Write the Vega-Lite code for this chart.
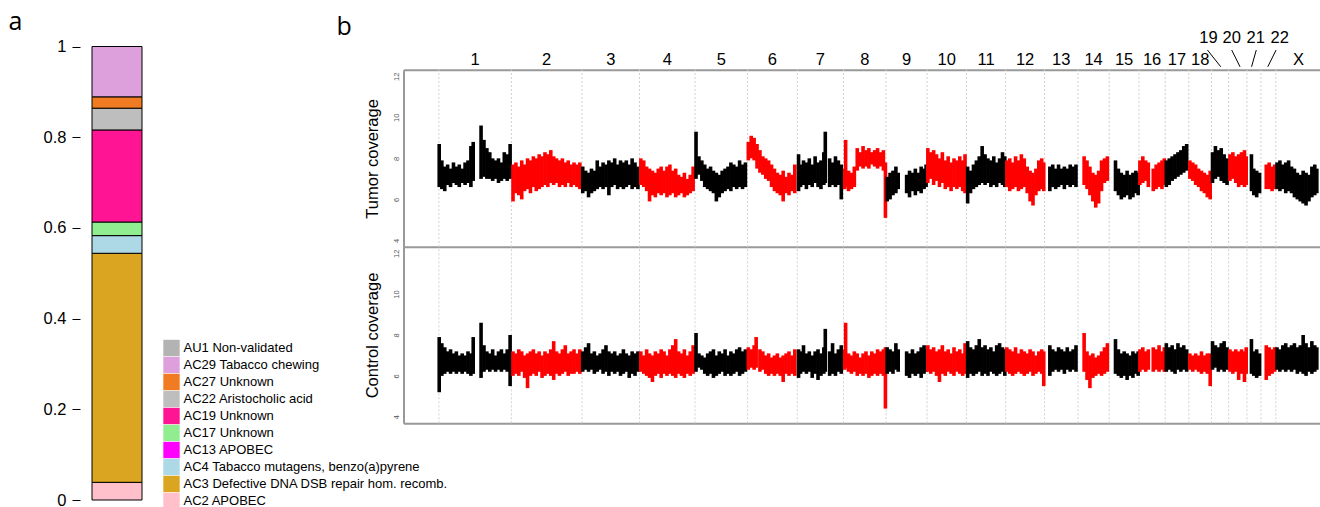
{
"$schema":"https://vega.github.io/schema/vega-lite/v6.json",
"width":1320,"height":507,"autosize":{"type":"none"},"padding":0,
"config":{"view":{"stroke":null},"font":"Liberation Sans"},
"datasets":{
"sig":[
{"s":"AC2 APOBEC","v":0.039,"o":1,"g":"a"},
{"s":"AC3 Defective DNA DSB repair hom. recomb.","v":0.505,"o":2,"g":"a"},
{"s":"AC4 Tabacco mutagens, benzo(a)pyrene","v":0.039,"o":3,"g":"a"},
{"s":"AC17 Unknown","v":0.03,"o":4,"g":"a"},
{"s":"AC19 Unknown","v":0.203,"o":5,"g":"a"},
{"s":"AC22 Aristocholic acid","v":0.048,"o":6,"g":"a"},
{"s":"AC27 Unknown","v":0.025,"o":7,"g":"a"},
{"s":"AC29 Tabacco chewing","v":0.111,"o":8,"g":"a"}
],
"bounds":[{"p":0},{"p":249.25},{"p":492.45},{"p":690.47},{"p":881.62},{"p":1062.54},{"p":1233.66},{"p":1392.8},{"p":1539.16},{"p":1680.37},{"p":1815.9},{"p":1950.91},{"p":2084.76},{"p":2199.93},{"p":2307.28},{"p":2409.81},{"p":2500.16},{"p":2581.36},{"p":2659.44},{"p":2718.57},{"p":2781.6},{"p":2829.73},{"p":2881.03}],
"labels":[{"t":"1","p":124.6,"r":0},{"t":"2","p":370.9,"r":0},{"t":"3","p":591.5,"r":0},{"t":"4","p":786,"r":0},{"t":"5","p":972.1,"r":0},{"t":"6","p":1148.1,"r":0},{"t":"7","p":1313.2,"r":0},{"t":"8","p":1466,"r":0},{"t":"9","p":1609.8,"r":0},{"t":"10","p":1748.1,"r":0},{"t":"11","p":1883.4,"r":0},{"t":"12","p":2017.8,"r":0},{"t":"13","p":2142.3,"r":0},{"t":"14","p":2253.6,"r":0},{"t":"15","p":2358.5,"r":0},{"t":"16","p":2455,"r":0},{"t":"17","p":2540.8,"r":0},{"t":"18","p":2620.4,"r":0},{"t":"19","p":2649,"r":1},{"t":"20","p":2729,"r":1},{"t":"21","p":2811.6,"r":1},{"t":"22","p":2894.3,"r":1},{"t":"X","p":2958.7,"r":0}],
"leaders":[{"a":2645.6,"b":2691.4},{"a":2729,"b":2757.8},{"a":2813.6,"b":2797.4},{"a":2881.8,"b":2853.2}],
"t":[
{"k":"1","p":1,"l":6.6,"h":8.7},{"k":"1","p":10,"l":6.5,"h":7.9},{"k":"1","p":20,"l":6.4,"h":7.6},{"k":"1","p":30,"l":6.7,"h":7.7},{"k":"1","p":40,"l":6.6,"h":7.5},{"k":"1","p":50,"l":6.8,"h":7.8},{"k":"1","p":60,"l":6.7,"h":7.6},{"k":"1","p":70,"l":6.6,"h":7.7},{"k":"1","p":80,"l":6.8,"h":7.5},{"k":"1","p":90,"l":6.7,"h":7.8},{"k":"1","p":100,"l":6.8,"h":7.9},{"k":"1","p":110,"l":6.6,"h":8.6},{"k":"1","p":118,"l":6.9,"h":8.8},
{"k":"1","p":145,"l":7.0,"h":9.6},{"k":"1","p":155,"l":7.1,"h":8.9},{"k":"1","p":165,"l":7.0,"h":8.5},{"k":"1","p":175,"l":7.0,"h":8.3},{"k":"1","p":185,"l":6.9,"h":8.0},{"k":"1","p":195,"l":7.0,"h":7.9},{"k":"1","p":205,"l":6.8,"h":8.0},{"k":"1","p":215,"l":6.9,"h":7.8},{"k":"1","p":225,"l":7.0,"h":8.3},{"k":"1","p":235,"l":6.9,"h":8.2},{"k":"1","p":245,"l":7.0,"h":8.7},
{"k":"2","p":255,"l":5.9,"h":7.7},{"k":"2","p":265,"l":6.3,"h":7.8},{"k":"2","p":275,"l":6.2,"h":7.6},{"k":"2","p":285,"l":6.0,"h":7.9},{"k":"2","p":295,"l":6.4,"h":7.7},{"k":"2","p":305,"l":6.5,"h":8.0},{"k":"2","p":315,"l":6.3,"h":7.9},{"k":"2","p":325,"l":6.6,"h":8.1},{"k":"2","p":335,"l":6.4,"h":8.0},{"k":"2","p":345,"l":6.5,"h":8.2},{"k":"2","p":355,"l":6.6,"h":8.1},{"k":"2","p":365,"l":6.7,"h":8.3},{"k":"2","p":375,"l":6.6,"h":8.2},{"k":"2","p":385,"l":6.8,"h":8.4},{"k":"2","p":395,"l":6.7,"h":8.1},{"k":"2","p":405,"l":6.8,"h":8.0},{"k":"2","p":415,"l":6.6,"h":7.9},{"k":"2","p":425,"l":6.7,"h":8.0},{"k":"2","p":435,"l":6.6,"h":7.8},{"k":"2","p":445,"l":6.8,"h":7.9},{"k":"2","p":455,"l":6.6,"h":7.7},{"k":"2","p":465,"l":6.7,"h":7.8},{"k":"2","p":475,"l":6.6,"h":7.7},{"k":"2","p":485,"l":6.5,"h":7.8},
{"k":"3","p":495,"l":6.3,"h":7.6},{"k":"3","p":505,"l":6.4,"h":7.4},{"k":"3","p":515,"l":6.1,"h":7.3},{"k":"3","p":525,"l":6.3,"h":7.5},{"k":"3","p":535,"l":6.4,"h":7.4},{"k":"3","p":545,"l":6.5,"h":7.9},{"k":"3","p":555,"l":6.6,"h":7.6},{"k":"3","p":565,"l":6.5,"h":7.8},{"k":"3","p":575,"l":6.6,"h":7.7},{"k":"3","p":585,"l":6.2,"h":7.9},{"k":"3","p":595,"l":6.6,"h":7.8},{"k":"3","p":605,"l":6.7,"h":8.0},{"k":"3","p":615,"l":6.5,"h":7.7},{"k":"3","p":625,"l":6.6,"h":7.9},{"k":"3","p":635,"l":6.5,"h":7.8},{"k":"3","p":645,"l":6.6,"h":7.9},{"k":"3","p":655,"l":6.7,"h":7.7},{"k":"3","p":665,"l":6.5,"h":8.0},{"k":"3","p":675,"l":6.6,"h":7.8},{"k":"3","p":685,"l":6.5,"h":7.6},
{"k":"4","p":695,"l":6.7,"h":8.0},{"k":"4","p":705,"l":6.6,"h":7.9},{"k":"4","p":715,"l":6.4,"h":7.6},{"k":"4","p":725,"l":5.9,"h":7.5},{"k":"4","p":735,"l":6.2,"h":7.4},{"k":"4","p":745,"l":6.1,"h":7.3},{"k":"4","p":755,"l":6.3,"h":7.5},{"k":"4","p":765,"l":6.2,"h":7.6},{"k":"4","p":775,"l":6.3,"h":7.4},{"k":"4","p":785,"l":6.1,"h":7.6},{"k":"4","p":795,"l":6.2,"h":7.7},{"k":"4","p":805,"l":6.3,"h":7.4},{"k":"4","p":815,"l":6.1,"h":7.5},{"k":"4","p":825,"l":6.2,"h":7.2},{"k":"4","p":835,"l":6.3,"h":7.1},{"k":"4","p":845,"l":6.1,"h":7.3},{"k":"4","p":855,"l":6.2,"h":7.0},{"k":"4","p":865,"l":6.3,"h":7.2},{"k":"4","p":875,"l":6.4,"h":7.6},
{"k":"5","p":885,"l":7.0,"h":9.3},{"k":"5","p":895,"l":7.2,"h":8.1},{"k":"5","p":905,"l":6.9,"h":7.9},{"k":"5","p":915,"l":6.6,"h":7.7},{"k":"5","p":925,"l":6.5,"h":7.5},{"k":"5","p":935,"l":6.4,"h":7.6},{"k":"5","p":945,"l":6.3,"h":7.4},{"k":"5","p":955,"l":5.9,"h":7.3},{"k":"5","p":965,"l":6.1,"h":7.2},{"k":"5","p":975,"l":6.3,"h":7.4},{"k":"5","p":985,"l":6.4,"h":7.5},{"k":"5","p":995,"l":6.5,"h":7.6},{"k":"5","p":1005,"l":6.4,"h":7.8},{"k":"5","p":1015,"l":6.6,"h":7.7},{"k":"5","p":1025,"l":6.5,"h":7.6},{"k":"5","p":1035,"l":6.6,"h":7.9},{"k":"5","p":1045,"l":6.5,"h":7.7},{"k":"5","p":1055,"l":6.6,"h":7.8},
{"k":"6","p":1065,"l":7.9,"h":8.8},{"k":"6","p":1075,"l":8.0,"h":9.1},{"k":"6","p":1085,"l":7.9,"h":9.0},{"k":"6","p":1095,"l":7.5,"h":8.7},{"k":"6","p":1105,"l":7.3,"h":8.4},{"k":"6","p":1115,"l":7.2,"h":8.1},{"k":"6","p":1125,"l":7.0,"h":8.0},{"k":"6","p":1135,"l":6.9,"h":7.9},{"k":"6","p":1145,"l":6.6,"h":7.7},{"k":"6","p":1155,"l":6.4,"h":7.5},{"k":"6","p":1165,"l":6.3,"h":7.3},{"k":"6","p":1175,"l":6.2,"h":7.2},{"k":"6","p":1185,"l":5.9,"h":7.4},{"k":"6","p":1195,"l":6.3,"h":7.1},{"k":"6","p":1205,"l":6.2,"h":7.3},{"k":"6","p":1215,"l":6.4,"h":7.2},{"k":"6","p":1225,"l":6.3,"h":7.7},
{"k":"7","p":1238,"l":6.4,"h":8.2},{"k":"7","p":1245,"l":6.6,"h":7.7},{"k":"7","p":1255,"l":6.7,"h":7.9},{"k":"7","p":1265,"l":6.5,"h":7.8},{"k":"7","p":1275,"l":6.7,"h":8.0},{"k":"7","p":1285,"l":6.6,"h":7.7},{"k":"7","p":1295,"l":6.8,"h":8.1},{"k":"7","p":1305,"l":6.6,"h":7.8},{"k":"7","p":1315,"l":6.5,"h":7.9},{"k":"7","p":1325,"l":6.7,"h":8.3},{"k":"7","p":1330,"l":6.8,"h":9.3},{"k":"7","p":1345,"l":6.6,"h":8.0},{"k":"7","p":1355,"l":6.7,"h":7.8},{"k":"7","p":1365,"l":6.6,"h":8.1},{"k":"7","p":1375,"l":6.7,"h":7.9},{"k":"7","p":1385,"l":6.0,"h":7.7},
{"k":"8","p":1397,"l":6.5,"h":7.5},{"k":"8","p":1400,"l":6.6,"h":8.9},{"k":"8","p":1410,"l":6.4,"h":7.4},{"k":"8","p":1420,"l":6.5,"h":7.3},{"k":"8","p":1430,"l":6.6,"h":7.6},{"k":"8","p":1440,"l":7.4,"h":8.5},{"k":"8","p":1450,"l":7.6,"h":8.3},{"k":"8","p":1460,"l":7.5,"h":8.6},{"k":"8","p":1470,"l":7.6,"h":8.4},{"k":"8","p":1480,"l":7.5,"h":8.5},{"k":"8","p":1490,"l":7.7,"h":8.3},{"k":"8","p":1500,"l":7.6,"h":8.4},{"k":"8","p":1510,"l":7.5,"h":8.5},{"k":"8","p":1520,"l":7.6,"h":8.3},{"k":"8","p":1530,"l":7.4,"h":8.4},{"k":"8","p":1537,"l":5.1,"h":7.8},
{"k":"9","p":1543,"l":5.9,"h":7.1},{"k":"9","p":1553,"l":6.0,"h":7.3},{"k":"9","p":1563,"l":6.2,"h":7.4},{"k":"9","p":1573,"l":6.3,"h":7.6},{"k":"9","p":1581,"l":6.5,"h":7.3},{"k":"9","p":1610,"l":6.3,"h":7.2},{"k":"9","p":1620,"l":6.1,"h":7.4},{"k":"9","p":1630,"l":6.4,"h":7.3},{"k":"9","p":1640,"l":6.2,"h":7.5},{"k":"9","p":1650,"l":6.4,"h":7.3},{"k":"9","p":1660,"l":6.3,"h":7.6},{"k":"9","p":1670,"l":6.5,"h":7.5},{"k":"9","p":1677,"l":6.6,"h":7.7},
{"k":"10","p":1683,"l":6.8,"h":8.5},{"k":"10","p":1693,"l":7.0,"h":8.3},{"k":"10","p":1703,"l":6.7,"h":8.4},{"k":"10","p":1713,"l":6.9,"h":8.2},{"k":"10","p":1723,"l":6.6,"h":8.0},{"k":"10","p":1733,"l":6.8,"h":8.3},{"k":"10","p":1743,"l":6.5,"h":7.9},{"k":"10","p":1753,"l":6.6,"h":8.1},{"k":"10","p":1763,"l":6.4,"h":7.8},{"k":"10","p":1773,"l":6.6,"h":8.0},{"k":"10","p":1783,"l":6.5,"h":7.9},{"k":"10","p":1793,"l":6.6,"h":8.1},{"k":"10","p":1803,"l":6.4,"h":7.9},{"k":"10","p":1811,"l":6.3,"h":8.2},
{"k":"11","p":1820,"l":5.8,"h":7.6},{"k":"11","p":1830,"l":6.3,"h":7.4},{"k":"11","p":1840,"l":6.5,"h":7.7},{"k":"11","p":1850,"l":6.6,"h":7.9},{"k":"11","p":1860,"l":6.7,"h":8.1},{"k":"11","p":1870,"l":6.8,"h":8.6},{"k":"11","p":1880,"l":6.7,"h":8.2},{"k":"11","p":1890,"l":6.8,"h":8.0},{"k":"11","p":1900,"l":6.6,"h":7.9},{"k":"11","p":1910,"l":6.7,"h":8.1},{"k":"11","p":1920,"l":6.6,"h":7.8},{"k":"11","p":1930,"l":6.8,"h":8.0},{"k":"11","p":1940,"l":6.7,"h":8.3},{"k":"11","p":1948,"l":6.6,"h":8.1},
{"k":"12","p":1955,"l":6.6,"h":7.9},{"k":"12","p":1965,"l":6.4,"h":8.0},{"k":"12","p":1975,"l":6.5,"h":7.8},{"k":"12","p":1985,"l":6.6,"h":8.1},{"k":"12","p":1995,"l":6.4,"h":7.9},{"k":"12","p":2005,"l":6.5,"h":8.2},{"k":"12","p":2015,"l":6.6,"h":8.0},{"k":"12","p":2025,"l":6.3,"h":7.6},{"k":"12","p":2035,"l":5.9,"h":7.4},{"k":"12","p":2045,"l":5.7,"h":7.3},{"k":"12","p":2055,"l":6.2,"h":7.5},{"k":"12","p":2065,"l":6.4,"h":7.9},{"k":"12","p":2075,"l":6.5,"h":8.0},{"k":"12","p":2082,"l":6.4,"h":7.8},
{"k":"13","p":2103,"l":6.4,"h":7.6},{"k":"13","p":2113,"l":6.6,"h":7.7},{"k":"13","p":2123,"l":6.5,"h":7.5},{"k":"13","p":2133,"l":6.6,"h":7.7},{"k":"13","p":2143,"l":6.7,"h":7.5},{"k":"13","p":2153,"l":6.5,"h":7.6},{"k":"13","p":2163,"l":6.7,"h":7.5},{"k":"13","p":2173,"l":6.6,"h":7.7},{"k":"13","p":2183,"l":6.7,"h":7.6},{"k":"13","p":2193,"l":6.6,"h":7.7},
{"k":"14","p":2221,"l":6.7,"h":8.1},{"k":"14","p":2231,"l":6.5,"h":7.9},{"k":"14","p":2241,"l":6.2,"h":7.6},{"k":"14","p":2251,"l":5.9,"h":7.3},{"k":"14","p":2261,"l":5.6,"h":7.2},{"k":"14","p":2271,"l":5.8,"h":7.4},{"k":"14","p":2281,"l":6.4,"h":7.9},{"k":"14","p":2291,"l":6.8,"h":8.0},{"k":"14","p":2301,"l":6.9,"h":8.1},
{"k":"15","p":2329,"l":6.4,"h":7.9},{"k":"15","p":2339,"l":6.2,"h":7.5},{"k":"15","p":2349,"l":6.0,"h":7.3},{"k":"15","p":2359,"l":6.1,"h":7.2},{"k":"15","p":2369,"l":6.2,"h":7.4},{"k":"15","p":2379,"l":6.0,"h":7.2},{"k":"15","p":2389,"l":6.1,"h":7.3},{"k":"15","p":2399,"l":6.3,"h":7.4},{"k":"15","p":2407,"l":6.2,"h":7.3},
{"k":"16","p":2413,"l":6.7,"h":7.9},{"k":"16","p":2423,"l":6.8,"h":8.1},{"k":"16","p":2433,"l":6.9,"h":7.9},{"k":"16","p":2442,"l":6.6,"h":7.8},{"k":"16","p":2459,"l":6.4,"h":7.5},{"k":"16","p":2469,"l":6.5,"h":7.7},{"k":"16","p":2479,"l":6.6,"h":7.8},{"k":"16","p":2489,"l":6.5,"h":7.9},{"k":"16","p":2497,"l":6.7,"h":8.0},
{"k":"17","p":2504,"l":6.6,"h":7.9},{"k":"17","p":2514,"l":6.7,"h":8.0},{"k":"17","p":2524,"l":6.9,"h":8.1},{"k":"17","p":2534,"l":7.0,"h":8.2},{"k":"17","p":2544,"l":7.1,"h":8.3},{"k":"17","p":2554,"l":7.2,"h":8.4},{"k":"17","p":2564,"l":7.3,"h":8.6},{"k":"17","p":2574,"l":7.4,"h":8.7},
{"k":"18","p":2585,"l":7.0,"h":7.9},{"k":"18","p":2595,"l":6.9,"h":7.8},{"k":"18","p":2605,"l":6.7,"h":7.7},{"k":"18","p":2615,"l":6.6,"h":7.5},{"k":"18","p":2625,"l":6.4,"h":7.4},{"k":"18","p":2635,"l":6.3,"h":7.3},{"k":"18","p":2645,"l":6.1,"h":7.2},{"k":"18","p":2655,"l":6.0,"h":7.4},
{"k":"19","p":2663,"l":6.8,"h":8.3},{"k":"19","p":2673,"l":7.0,"h":8.6},{"k":"19","p":2683,"l":7.1,"h":8.4},{"k":"19","p":2693,"l":6.9,"h":8.5},{"k":"19","p":2703,"l":6.8,"h":8.2},{"k":"19","p":2713,"l":6.7,"h":8.0},
{"k":"20","p":2723,"l":6.9,"h":8.2},{"k":"20","p":2733,"l":7.0,"h":8.3},{"k":"20","p":2743,"l":6.8,"h":8.1},{"k":"20","p":2753,"l":6.6,"h":8.2},{"k":"20","p":2763,"l":6.7,"h":8.3},{"k":"20","p":2773,"l":6.6,"h":8.4},{"k":"20","p":2779,"l":6.7,"h":8.1},
{"k":"21","p":2797,"l":6.4,"h":8.2},{"k":"21","p":2805,"l":6.2,"h":7.5},{"k":"21","p":2815,"l":6.1,"h":7.4},{"k":"21","p":2825,"l":6.3,"h":7.3},
{"k":"22","p":2848,"l":6.5,"h":7.7},{"k":"22","p":2858,"l":6.5,"h":7.8},{"k":"22","p":2868,"l":6.4,"h":7.6},{"k":"22","p":2877,"l":6.5,"h":7.7},
{"k":"X","p":2885,"l":6.5,"h":7.8},{"k":"X","p":2895,"l":6.4,"h":7.9},{"k":"X","p":2905,"l":6.5,"h":7.7},{"k":"X","p":2915,"l":6.3,"h":7.8},{"k":"X","p":2925,"l":6.4,"h":7.9},{"k":"X","p":2935,"l":6.3,"h":7.6},{"k":"X","p":2945,"l":6.1,"h":7.5},{"k":"X","p":2955,"l":6.0,"h":7.3},{"k":"X","p":2965,"l":5.9,"h":7.2},{"k":"X","p":2975,"l":5.8,"h":7.4},{"k":"X","p":2985,"l":5.7,"h":7.3},{"k":"X","p":2995,"l":5.9,"h":7.2},{"k":"X","p":3005,"l":6.1,"h":7.6},{"k":"X","p":3015,"l":6.2,"h":7.7},{"k":"X","p":3022,"l":6.3,"h":7.5}
],
"c":[
{"k":"1","p":1,"l":5.2,"h":7.9},{"k":"1","p":10,"l":6.0,"h":7.6},{"k":"1","p":20,"l":6.1,"h":7.4},{"k":"1","p":30,"l":6.2,"h":7.2},{"k":"1","p":40,"l":6.1,"h":7.3},{"k":"1","p":50,"l":6.2,"h":7.1},{"k":"1","p":60,"l":6.1,"h":7.2},{"k":"1","p":70,"l":6.2,"h":7.0},{"k":"1","p":80,"l":6.1,"h":7.1},{"k":"1","p":90,"l":6.2,"h":7.0},{"k":"1","p":100,"l":6.1,"h":7.2},{"k":"1","p":110,"l":6.0,"h":7.1},{"k":"1","p":118,"l":6.1,"h":7.9},
{"k":"1","p":145,"l":5.9,"h":8.6},{"k":"1","p":155,"l":6.2,"h":7.5},{"k":"1","p":165,"l":6.3,"h":7.2},{"k":"1","p":175,"l":6.2,"h":7.1},{"k":"1","p":185,"l":6.3,"h":7.3},{"k":"1","p":195,"l":6.2,"h":7.0},{"k":"1","p":205,"l":6.3,"h":7.2},{"k":"1","p":215,"l":6.2,"h":7.3},{"k":"1","p":225,"l":6.3,"h":7.1},{"k":"1","p":235,"l":6.2,"h":7.3},{"k":"1","p":245,"l":5.5,"h":8.0},
{"k":"2","p":255,"l":6.0,"h":7.2},{"k":"2","p":265,"l":6.1,"h":7.1},{"k":"2","p":275,"l":6.0,"h":7.3},{"k":"2","p":285,"l":6.2,"h":7.2},{"k":"2","p":295,"l":5.9,"h":7.0},{"k":"2","p":305,"l":5.4,"h":7.1},{"k":"2","p":315,"l":6.0,"h":7.2},{"k":"2","p":325,"l":6.1,"h":7.3},{"k":"2","p":335,"l":6.0,"h":7.1},{"k":"2","p":345,"l":6.2,"h":7.2},{"k":"2","p":355,"l":5.9,"h":7.0},{"k":"2","p":365,"l":6.0,"h":7.2},{"k":"2","p":375,"l":6.1,"h":7.1},{"k":"2","p":385,"l":6.0,"h":7.3},{"k":"2","p":395,"l":5.8,"h":7.7},{"k":"2","p":405,"l":6.1,"h":7.2},{"k":"2","p":415,"l":6.0,"h":7.1},{"k":"2","p":425,"l":6.1,"h":7.3},{"k":"2","p":435,"l":6.2,"h":7.5},{"k":"2","p":445,"l":6.0,"h":7.1},{"k":"2","p":455,"l":6.1,"h":7.2},{"k":"2","p":465,"l":6.1,"h":7.3},{"k":"2","p":475,"l":6.2,"h":7.1},{"k":"2","p":485,"l":6.1,"h":7.3},
{"k":"3","p":495,"l":6.2,"h":7.2},{"k":"3","p":505,"l":6.3,"h":7.4},{"k":"3","p":515,"l":6.2,"h":7.6},{"k":"3","p":525,"l":6.3,"h":7.1},{"k":"3","p":535,"l":6.1,"h":7.2},{"k":"3","p":545,"l":6.2,"h":7.0},{"k":"3","p":555,"l":6.3,"h":7.1},{"k":"3","p":565,"l":6.1,"h":7.3},{"k":"3","p":575,"l":6.2,"h":7.5},{"k":"3","p":585,"l":6.0,"h":7.2},{"k":"3","p":595,"l":6.2,"h":7.1},{"k":"3","p":605,"l":6.1,"h":7.2},{"k":"3","p":615,"l":6.2,"h":7.0},{"k":"3","p":625,"l":6.0,"h":7.1},{"k":"3","p":635,"l":6.1,"h":7.3},{"k":"3","p":645,"l":6.2,"h":7.1},{"k":"3","p":655,"l":5.9,"h":7.0},{"k":"3","p":665,"l":6.1,"h":7.2},{"k":"3","p":675,"l":6.0,"h":7.1},{"k":"3","p":685,"l":6.2,"h":7.2},
{"k":"4","p":695,"l":6.2,"h":7.2},{"k":"4","p":705,"l":6.1,"h":7.0},{"k":"4","p":715,"l":6.0,"h":7.3},{"k":"4","p":725,"l":5.9,"h":7.1},{"k":"4","p":735,"l":5.7,"h":7.0},{"k":"4","p":745,"l":6.0,"h":7.2},{"k":"4","p":755,"l":6.1,"h":7.1},{"k":"4","p":765,"l":5.9,"h":7.3},{"k":"4","p":775,"l":6.1,"h":7.2},{"k":"4","p":785,"l":6.0,"h":7.0},{"k":"4","p":795,"l":6.1,"h":7.3},{"k":"4","p":805,"l":6.0,"h":7.5},{"k":"4","p":815,"l":5.9,"h":7.8},{"k":"4","p":825,"l":6.1,"h":7.2},{"k":"4","p":835,"l":6.0,"h":7.1},{"k":"4","p":845,"l":5.9,"h":7.3},{"k":"4","p":855,"l":6.1,"h":7.0},{"k":"4","p":865,"l":6.0,"h":7.2},{"k":"4","p":875,"l":6.1,"h":7.5},
{"k":"5","p":885,"l":6.2,"h":8.1},{"k":"5","p":895,"l":6.4,"h":7.1},{"k":"5","p":905,"l":6.3,"h":7.0},{"k":"5","p":915,"l":6.1,"h":6.9},{"k":"5","p":925,"l":6.0,"h":7.1},{"k":"5","p":935,"l":6.1,"h":7.2},{"k":"5","p":945,"l":5.9,"h":7.3},{"k":"5","p":955,"l":6.0,"h":7.0},{"k":"5","p":965,"l":6.1,"h":7.2},{"k":"5","p":975,"l":6.2,"h":7.1},{"k":"5","p":985,"l":6.0,"h":7.3},{"k":"5","p":995,"l":6.1,"h":7.0},{"k":"5","p":1005,"l":6.0,"h":7.2},{"k":"5","p":1015,"l":6.1,"h":7.1},{"k":"5","p":1025,"l":6.2,"h":7.3},{"k":"5","p":1035,"l":6.0,"h":7.4},{"k":"5","p":1045,"l":6.1,"h":7.2},{"k":"5","p":1055,"l":6.2,"h":7.3},
{"k":"6","p":1065,"l":6.3,"h":7.4},{"k":"6","p":1075,"l":6.4,"h":7.3},{"k":"6","p":1085,"l":6.3,"h":7.5},{"k":"6","p":1092,"l":6.4,"h":7.9},{"k":"6","p":1105,"l":6.2,"h":7.3},{"k":"6","p":1115,"l":6.3,"h":7.2},{"k":"6","p":1125,"l":6.1,"h":7.0},{"k":"6","p":1135,"l":6.0,"h":7.1},{"k":"6","p":1145,"l":6.1,"h":6.9},{"k":"6","p":1155,"l":6.0,"h":7.0},{"k":"6","p":1165,"l":6.1,"h":7.1},{"k":"6","p":1175,"l":6.0,"h":6.9},{"k":"6","p":1185,"l":5.7,"h":7.0},{"k":"6","p":1195,"l":6.1,"h":7.1},{"k":"6","p":1205,"l":6.0,"h":7.2},{"k":"6","p":1215,"l":6.1,"h":7.0},{"k":"6","p":1225,"l":6.0,"h":7.3},
{"k":"7","p":1238,"l":5.9,"h":7.3},{"k":"7","p":1245,"l":6.1,"h":7.2},{"k":"7","p":1255,"l":6.2,"h":7.5},{"k":"7","p":1265,"l":6.1,"h":7.1},{"k":"7","p":1275,"l":6.2,"h":7.2},{"k":"7","p":1285,"l":5.9,"h":7.0},{"k":"7","p":1295,"l":6.1,"h":7.2},{"k":"7","p":1305,"l":5.8,"h":7.3},{"k":"7","p":1315,"l":6.0,"h":7.1},{"k":"7","p":1325,"l":6.1,"h":7.4},{"k":"7","p":1330,"l":6.2,"h":8.3},{"k":"7","p":1345,"l":6.0,"h":7.2},{"k":"7","p":1355,"l":6.1,"h":7.6},{"k":"7","p":1365,"l":6.0,"h":7.1},{"k":"7","p":1375,"l":6.2,"h":7.3},{"k":"7","p":1385,"l":6.1,"h":7.5},
{"k":"8","p":1397,"l":6.3,"h":7.3},{"k":"8","p":1400,"l":6.4,"h":8.6},{"k":"8","p":1410,"l":6.2,"h":7.1},{"k":"8","p":1420,"l":6.1,"h":7.0},{"k":"8","p":1430,"l":6.2,"h":7.2},{"k":"8","p":1440,"l":6.0,"h":7.1},{"k":"8","p":1450,"l":6.1,"h":6.9},{"k":"8","p":1460,"l":6.0,"h":7.1},{"k":"8","p":1470,"l":6.1,"h":7.2},{"k":"8","p":1480,"l":5.9,"h":7.0},{"k":"8","p":1490,"l":6.0,"h":7.2},{"k":"8","p":1500,"l":6.1,"h":7.1},{"k":"8","p":1510,"l":6.0,"h":7.3},{"k":"8","p":1520,"l":6.1,"h":7.2},{"k":"8","p":1530,"l":6.0,"h":7.3},{"k":"8","p":1537,"l":4.4,"h":7.4},
{"k":"9","p":1543,"l":6.1,"h":7.4},{"k":"9","p":1553,"l":6.2,"h":7.3},{"k":"9","p":1563,"l":6.1,"h":7.2},{"k":"9","p":1573,"l":6.3,"h":7.6},{"k":"9","p":1581,"l":6.2,"h":7.3},{"k":"9","p":1610,"l":6.0,"h":7.2},{"k":"9","p":1620,"l":5.9,"h":7.1},{"k":"9","p":1630,"l":6.1,"h":7.3},{"k":"9","p":1640,"l":6.0,"h":7.1},{"k":"9","p":1650,"l":6.1,"h":7.2},{"k":"9","p":1660,"l":5.9,"h":7.4},{"k":"9","p":1670,"l":6.1,"h":7.5},{"k":"9","p":1677,"l":6.2,"h":7.3},
{"k":"10","p":1683,"l":6.2,"h":7.5},{"k":"10","p":1693,"l":6.1,"h":7.3},{"k":"10","p":1703,"l":6.2,"h":7.4},{"k":"10","p":1713,"l":6.0,"h":7.2},{"k":"10","p":1723,"l":5.7,"h":7.3},{"k":"10","p":1733,"l":6.1,"h":7.5},{"k":"10","p":1743,"l":6.0,"h":7.2},{"k":"10","p":1753,"l":6.2,"h":7.3},{"k":"10","p":1763,"l":6.1,"h":7.1},{"k":"10","p":1773,"l":6.0,"h":7.4},{"k":"10","p":1783,"l":6.2,"h":7.2},{"k":"10","p":1793,"l":6.1,"h":7.3},{"k":"10","p":1803,"l":6.0,"h":7.1},{"k":"10","p":1811,"l":6.1,"h":7.6},
{"k":"11","p":1820,"l":5.9,"h":7.7},{"k":"11","p":1830,"l":6.1,"h":7.4},{"k":"11","p":1840,"l":6.0,"h":7.3},{"k":"11","p":1850,"l":6.1,"h":7.5},{"k":"11","p":1860,"l":6.2,"h":7.8},{"k":"11","p":1870,"l":6.0,"h":7.4},{"k":"11","p":1880,"l":6.1,"h":7.5},{"k":"11","p":1890,"l":6.0,"h":7.3},{"k":"11","p":1900,"l":6.2,"h":7.4},{"k":"11","p":1910,"l":6.1,"h":7.2},{"k":"11","p":1920,"l":6.0,"h":7.5},{"k":"11","p":1930,"l":6.1,"h":7.6},{"k":"11","p":1940,"l":6.2,"h":7.4},{"k":"11","p":1948,"l":6.0,"h":7.3},
{"k":"12","p":1955,"l":6.2,"h":7.4},{"k":"12","p":1965,"l":6.1,"h":7.3},{"k":"12","p":1975,"l":6.0,"h":7.2},{"k":"12","p":1985,"l":6.1,"h":7.4},{"k":"12","p":1995,"l":6.2,"h":7.1},{"k":"12","p":2005,"l":6.1,"h":7.3},{"k":"12","p":2015,"l":6.0,"h":7.2},{"k":"12","p":2025,"l":6.1,"h":7.1},{"k":"12","p":2035,"l":6.2,"h":7.3},{"k":"12","p":2045,"l":6.0,"h":7.2},{"k":"12","p":2055,"l":6.1,"h":7.0},{"k":"12","p":2065,"l":6.2,"h":7.2},{"k":"12","p":2075,"l":6.1,"h":7.3},{"k":"12","p":2082,"l":5.5,"h":7.2},
{"k":"13","p":2103,"l":6.0,"h":7.5},{"k":"13","p":2113,"l":6.2,"h":7.3},{"k":"13","p":2123,"l":6.3,"h":7.2},{"k":"13","p":2133,"l":6.2,"h":7.4},{"k":"13","p":2143,"l":6.3,"h":7.3},{"k":"13","p":2153,"l":6.1,"h":7.2},{"k":"13","p":2163,"l":6.3,"h":7.4},{"k":"13","p":2173,"l":6.2,"h":7.2},{"k":"13","p":2183,"l":6.3,"h":7.3},{"k":"13","p":2193,"l":6.2,"h":7.5},
{"k":"14","p":2221,"l":6.2,"h":8.1},{"k":"14","p":2231,"l":5.8,"h":7.2},{"k":"14","p":2241,"l":5.4,"h":7.0},{"k":"14","p":2251,"l":5.9,"h":7.1},{"k":"14","p":2261,"l":6.0,"h":6.9},{"k":"14","p":2271,"l":6.1,"h":7.0},{"k":"14","p":2281,"l":6.0,"h":7.2},{"k":"14","p":2291,"l":6.1,"h":7.4},{"k":"14","p":2301,"l":6.2,"h":7.6},
{"k":"15","p":2329,"l":6.1,"h":7.8},{"k":"15","p":2339,"l":6.0,"h":7.3},{"k":"15","p":2349,"l":5.9,"h":7.1},{"k":"15","p":2359,"l":6.0,"h":7.2},{"k":"15","p":2369,"l":5.8,"h":7.1},{"k":"15","p":2379,"l":6.0,"h":7.0},{"k":"15","p":2389,"l":5.9,"h":7.2},{"k":"15","p":2399,"l":6.1,"h":7.1},{"k":"15","p":2407,"l":6.0,"h":7.2},
{"k":"16","p":2413,"l":6.2,"h":7.3},{"k":"16","p":2423,"l":6.3,"h":7.4},{"k":"16","p":2433,"l":6.2,"h":7.2},{"k":"16","p":2442,"l":6.3,"h":7.3},{"k":"16","p":2459,"l":6.2,"h":7.4},{"k":"16","p":2469,"l":6.3,"h":7.3},{"k":"16","p":2479,"l":6.2,"h":7.5},{"k":"16","p":2489,"l":6.3,"h":7.2},{"k":"16","p":2497,"l":6.2,"h":7.4},
{"k":"17","p":2504,"l":6.2,"h":7.6},{"k":"17","p":2514,"l":6.3,"h":7.4},{"k":"17","p":2524,"l":6.2,"h":7.5},{"k":"17","p":2534,"l":6.1,"h":7.3},{"k":"17","p":2544,"l":6.3,"h":7.6},{"k":"17","p":2554,"l":6.2,"h":7.4},{"k":"17","p":2564,"l":6.3,"h":7.5},{"k":"17","p":2574,"l":6.2,"h":7.3},
{"k":"18","p":2585,"l":6.3,"h":7.1},{"k":"18","p":2595,"l":6.2,"h":7.0},{"k":"18","p":2605,"l":6.3,"h":7.1},{"k":"18","p":2615,"l":6.2,"h":7.0},{"k":"18","p":2625,"l":6.1,"h":7.2},{"k":"18","p":2635,"l":6.2,"h":7.0},{"k":"18","p":2645,"l":6.1,"h":7.1},{"k":"18","p":2655,"l":5.5,"h":7.1},
{"k":"19","p":2663,"l":6.3,"h":7.7},{"k":"19","p":2673,"l":6.4,"h":7.5},{"k":"19","p":2683,"l":6.2,"h":7.4},{"k":"19","p":2693,"l":6.3,"h":7.6},{"k":"19","p":2703,"l":6.2,"h":7.7},{"k":"19","p":2713,"l":6.3,"h":7.4},
{"k":"20","p":2723,"l":6.2,"h":7.3},{"k":"20","p":2733,"l":6.1,"h":7.2},{"k":"20","p":2743,"l":6.2,"h":7.3},{"k":"20","p":2753,"l":5.8,"h":7.2},{"k":"20","p":2763,"l":6.1,"h":7.3},{"k":"20","p":2773,"l":5.7,"h":7.2},{"k":"20","p":2779,"l":6.1,"h":7.4},
{"k":"21","p":2797,"l":6.1,"h":7.8},{"k":"21","p":2805,"l":6.0,"h":7.2},{"k":"21","p":2815,"l":5.9,"h":7.3},{"k":"21","p":2825,"l":6.0,"h":7.1},
{"k":"22","p":2848,"l":5.8,"h":7.5},{"k":"22","p":2858,"l":6.0,"h":7.4},{"k":"22","p":2868,"l":6.1,"h":7.3},{"k":"22","p":2877,"l":6.2,"h":7.4},
{"k":"X","p":2885,"l":6.3,"h":7.4},{"k":"X","p":2895,"l":6.2,"h":7.3},{"k":"X","p":2905,"l":6.3,"h":7.5},{"k":"X","p":2915,"l":6.2,"h":7.6},{"k":"X","p":2925,"l":6.3,"h":7.4},{"k":"X","p":2935,"l":6.2,"h":7.5},{"k":"X","p":2945,"l":6.3,"h":7.6},{"k":"X","p":2955,"l":6.1,"h":7.4},{"k":"X","p":2965,"l":6.2,"h":7.5},{"k":"X","p":2975,"l":6.1,"h":8.0},{"k":"X","p":2985,"l":6.0,"h":7.6},{"k":"X","p":2995,"l":6.2,"h":7.4},{"k":"X","p":3005,"l":6.1,"h":7.7},{"k":"X","p":3015,"l":6.2,"h":7.5},{"k":"X","p":3022,"l":6.3,"h":7.4}
]
},
"layer":[
{
"data":{"name":"sig"},
"mark":{"type":"bar","stroke":"#000","strokeWidth":1},
"encoding":{
"x":{"field":"g","type":"nominal","scale":{"range":[92,142],"paddingInner":0,"paddingOuter":0},"axis":null},
"y":{"field":"v","type":"quantitative","stack":"zero","scale":{"domain":[0,1],"range":[500,46.5],"nice":false},
"axis":{"orient":"left","offset":-80,"values":[0,0.2,0.4,0.6,0.8,1],"format":"~g","grid":false,"domain":false,"ticks":true,"tickSize":8,"tickColor":"#000","tickWidth":1,"labelFont":"Liberation Sans","labelFontSize":16.5,"labelColor":"#000","labelPadding":6,"title":"a","titleAngle":0,"titleX":-72,"titleY":29,"titleAlign":"left","titleBaseline":"alphabetic","titleFont":"Open Sans","titleFontSize":25,"titleFontWeight":"normal","titleColor":"#000"}},
"color":{"field":"s","type":"nominal","scale":{"domain":["AU1 Non-validated","AC29 Tabacco chewing","AC27 Unknown","AC22 Aristocholic acid","AC19 Unknown","AC17 Unknown","AC13 APOBEC","AC4 Tabacco mutagens, benzo(a)pyrene","AC3 Defective DNA DSB repair hom. recomb.","AC2 APOBEC"],"range":["#B3B3B3","#DDA0DD","#F07B22","#BEBEBE","#FF1493","#90EE90","#FF00FF","#ADD8E6","#DAA520","#FFC0CB"]},
"legend":{"orient":"none","legendX":163,"legendY":339.5,"title":null,"padding":0,"symbolType":"square","symbolSize":268,"symbolStrokeWidth":0,"symbolOpacity":1,"rowPadding":0,"labelOffset":3.5,"labelFont":"Liberation Sans","labelFontSize":13,"labelColor":"#000","labelLimit":0}},
"order":{"field":"o","type":"quantitative"}
}
},
{
"layer":[
{"data":{"name":"bounds"},"mark":{"type":"rule","color":"#d0d0d0","strokeWidth":1,"strokeDash":[2,2]},
"encoding":{"x":{"field":"p","type":"quantitative"},"y":{"datum":3.68},"y2":{"datum":12.32}}},
{"data":{"name":"t"},"mark":{"type":"rule","strokeWidth":3.6},
"encoding":{
"x":{"field":"p","type":"quantitative","scale":{"domain":[-122,3033],"range":[403.5,1320],"nice":false,"zero":false},
"axis":{"orient":"top","offset":-69.7,"grid":false,"ticks":false,"labels":false,"domain":true,"domainColor":"#999","domainWidth":2,"title":"b","titleX":336,"titleY":-34.7,"titleAngle":0,"titleAlign":"left","titleBaseline":"alphabetic","titleFont":"Open Sans","titleFontSize":25,"titleFontWeight":"normal","titleColor":"#000"}},
"y":{"field":"l","type":"quantitative","scale":{"domain":[3.68,12.32],"range":[247,69.7],"nice":false,"zero":false},
"axis":{"orient":"left","offset":-403.5,"values":[4,6,8,10,12],"format":"~g","grid":false,"ticks":false,"domain":true,"domainColor":"#999","domainWidth":2,"labelAngle":270,"labelAlign":"center","labelBaseline":"alphabetic","labelPadding":5,"labelFontSize":7.5,"labelColor":"#555","labelFont":"Liberation Sans","title":"Tumor coverage","titleAngle":270,"titleX":-26,"titleY":158.4,"titleAlign":"center","titleBaseline":"alphabetic","titleFont":"Liberation Sans","titleFontSize":16.5,"titleFontWeight":"normal","titleColor":"#000"}},
"y2":{"field":"h"},
"color":{"field":"k","type":"nominal","scale":{"domain":["1","2","3","4","5","6","7","8","9","10","11","12","13","14","15","16","17","18","19","20","21","22","X"],"range":["#000","#f00","#000","#f00","#000","#f00","#000","#f00","#000","#f00","#000","#f00","#000","#f00","#000","#f00","#000","#f00","#000","#f00","#000","#f00","#000"]},"legend":null}
}}
]
},
{
"layer":[
{"data":{"name":"bounds"},"mark":{"type":"rule","color":"#d0d0d0","strokeWidth":1,"strokeDash":[2,2]},
"encoding":{"x":{"field":"p","type":"quantitative"},"y":{"datum":3.68},"y2":{"datum":12.32}}},
{"data":{"name":"c"},"mark":{"type":"rule","strokeWidth":3.6},
"encoding":{
"x":{"field":"p","type":"quantitative","scale":{"domain":[-122,3033],"range":[403.5,1320],"nice":false,"zero":false},
"axis":{"orient":"top","offset":-246.7,"grid":false,"ticks":false,"labels":false,"domain":true,"domainColor":"#999","domainWidth":2,"title":null}},
"y":{"field":"l","type":"quantitative","scale":{"domain":[3.68,12.32],"range":[423.3,246.7],"nice":false,"zero":false},
"axis":{"orient":"left","offset":-403.5,"values":[4,6,8,10,12],"format":"~g","grid":false,"ticks":false,"domain":true,"domainColor":"#999","domainWidth":2,"labelAngle":270,"labelAlign":"center","labelBaseline":"alphabetic","labelPadding":5,"labelFontSize":7.5,"labelColor":"#555","labelFont":"Liberation Sans","title":"Control coverage","titleAngle":270,"titleX":-26,"titleY":335,"titleAlign":"center","titleBaseline":"alphabetic","titleFont":"Liberation Sans","titleFontSize":16.5,"titleFontWeight":"normal","titleColor":"#000"}},
"y2":{"field":"h"},
"color":{"field":"k","type":"nominal","scale":{"domain":["1","2","3","4","5","6","7","8","9","10","11","12","13","14","15","16","17","18","19","20","21","22","X"],"range":["#000","#f00","#000","#f00","#000","#f00","#000","#f00","#000","#f00","#000","#f00","#000","#f00","#000","#f00","#000","#f00","#000","#f00","#000","#f00","#000"]},"legend":null}
}}
]
},
{
"layer":[
{"data":{"name":"labels"},"mark":{"type":"text","font":"Liberation Sans","fontSize":16.5,"color":"#000","align":"center","baseline":"alphabetic"},
"encoding":{
"x":{"field":"p","type":"quantitative","scale":{"domain":[-122,3033],"range":[403.5,1320],"nice":false,"zero":false},
"axis":{"orient":"top","offset":-423.3,"grid":false,"ticks":false,"labels":false,"domain":true,"domainColor":"#999","domainWidth":2,"title":null}},
"y":{"field":"r","type":"quantitative","scale":{"domain":[0,1],"range":[65,42.7],"nice":false,"zero":false},"axis":null},
"text":{"field":"t"}}},
{"data":{"name":"leaders"},"mark":{"type":"rule","color":"#000","strokeWidth":1},
"encoding":{"x":{"field":"a","type":"quantitative"},"x2":{"field":"b"},"y":{"datum":0.67},"y2":{"datum":-0.08}}}
]
}
],
"resolve":{"scale":{"x":"independent","y":"independent","color":"independent"},"axis":{"x":"independent","y":"independent"},"legend":{"color":"independent"}}
}
